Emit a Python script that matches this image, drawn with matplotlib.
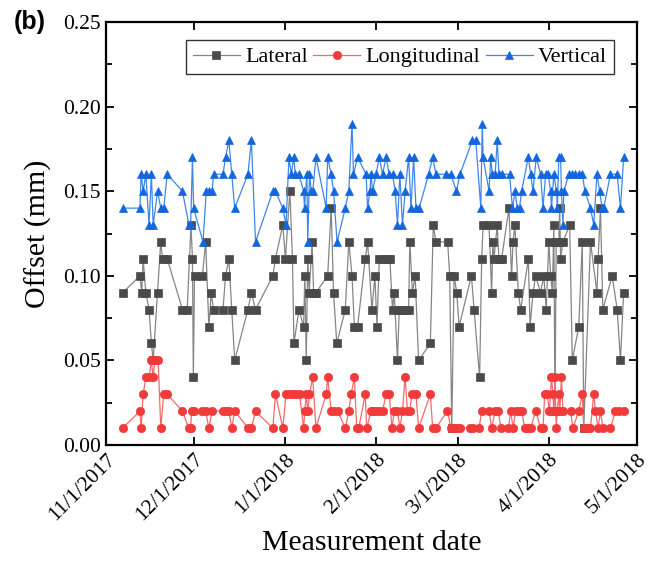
import numpy as np
import matplotlib
matplotlib.use("Agg")
import matplotlib.pyplot as plt
import matplotlib.dates as mdates
from matplotlib.ticker import MultipleLocator, FuncFormatter

# ---------------- data (days after 2017-11-01, offset in mm) ----------------
start_date = "2017-11-01"

lat_day = [5.7, 11.6, 12.2, 12.7, 13.6, 14.7, 15.5, 16.1, 17.6, 18.7,
           19.3, 20.9, 26.1, 27.7, 29.0, 29.5, 29.8, 30.2, 32.9, 34.0,
           35.1, 35.9, 36.7, 39.9, 40.8, 41.9, 42.9, 43.9, 48.4, 49.6,
           51.0, 56.9, 57.8, 60.3, 61.2, 62.7, 63.6, 64.1, 65.8, 67.4,
           67.8, 68.3, 68.8, 69.3, 70.3, 70.8, 71.6, 75.6, 76.8, 77.6,
           78.7, 81.6, 82.8, 83.9, 84.7, 85.8, 88.4, 89.2, 90.7, 91.7,
           92.4, 93.2, 94.3, 96.0, 96.8, 97.7, 98.3, 99.4, 100.0, 101.1,
           102.3, 103.2, 103.6, 104.5, 105.4, 106.6, 110.6, 111.6, 112.5, 116.5,
           117.2, 117.9, 118.7, 119.6, 120.4, 124.6, 125.5, 127.4, 128.1, 128.6,
           130.6, 131.5, 131.9, 132.3, 133.4, 134.0, 134.9, 137.4, 138.3, 138.8,
           139.4, 140.6, 141.4, 144.0, 144.6, 145.6, 146.5, 148.2, 149.3, 150.1,
           151.0, 151.6, 152.2, 152.7, 153.1, 153.5, 153.9, 154.4, 154.7, 155.0,
           155.8, 158.1, 159.0, 161.2, 162.4, 162.9, 165.2, 167.4, 167.8, 168.6,
           169.4, 172.6, 174.3, 175.4, 176.5]
lat_val = [0.09, 0.10, 0.09, 0.11, 0.09, 0.08, 0.06, 0.05, 0.09, 0.12,
           0.11, 0.11, 0.08, 0.08, 0.13, 0.11, 0.04, 0.10, 0.10, 0.12,
           0.07, 0.09, 0.08, 0.08, 0.10, 0.11, 0.08, 0.05, 0.08, 0.09,
           0.08, 0.10, 0.11, 0.13, 0.11, 0.15, 0.11, 0.06, 0.08, 0.07,
           0.10, 0.05, 0.11, 0.09, 0.12, 0.09, 0.09, 0.10, 0.14, 0.09,
           0.06, 0.08, 0.12, 0.10, 0.07, 0.07, 0.11, 0.12, 0.08, 0.10,
           0.07, 0.11, 0.11, 0.11, 0.11, 0.08, 0.09, 0.05, 0.08, 0.08,
           0.08, 0.08, 0.12, 0.09, 0.10, 0.05, 0.06, 0.13, 0.12, 0.12,
           0.10, 0.01, 0.10, 0.09, 0.07, 0.10, 0.08, 0.04, 0.11, 0.13,
           0.13, 0.09, 0.12, 0.11, 0.13, 0.11, 0.11, 0.14, 0.10, 0.12,
           0.13, 0.09, 0.08, 0.11, 0.07, 0.09, 0.10, 0.09, 0.10, 0.08,
           0.12, 0.10, 0.09, 0.13, 0.02, 0.12, 0.12, 0.12, 0.14, 0.11,
           0.12, 0.13, 0.05, 0.07, 0.12, 0.01, 0.12, 0.09, 0.11, 0.14,
           0.08, 0.10, 0.08, 0.05, 0.09]

lon_day = [5.7, 11.6, 12.0, 12.7, 13.6, 14.7, 15.5, 16.1, 16.7, 17.8,
           18.7, 19.7, 20.9, 26.1, 28.2, 28.9, 29.2, 29.9, 32.9, 34.0,
           35.1, 36.2, 39.9, 40.8, 41.9, 42.9, 43.9, 48.4, 49.6, 51.0,
           56.9, 57.8, 60.3, 61.4, 62.6, 63.7, 64.9, 66.0, 67.4, 67.8,
           68.3, 68.8, 69.4, 70.5, 71.6, 75.1, 75.6, 76.8, 77.9, 79.0,
           81.6, 82.8, 83.6, 84.7, 85.5, 86.2, 88.4, 88.9, 90.4, 91.2,
           92.1, 93.2, 94.3, 95.5, 96.6, 97.5, 98.3, 99.4, 100.2, 101.1,
           102.0, 102.8, 103.6, 104.3, 105.7, 106.6, 110.6, 111.4, 112.5, 116.4,
           117.6, 118.7, 119.8, 120.6, 124.2, 125.2, 127.2, 128.1, 130.6, 131.5,
           132.7, 133.8, 134.6, 137.2, 138.0, 138.8, 139.7, 140.8, 141.7, 142.8,
           144.0, 144.8, 146.5, 148.2, 149.0, 149.6, 150.4, 151.2, 151.9, 152.4,
           152.7, 153.1, 153.5, 153.9, 154.4, 154.7, 155.3, 155.8, 158.4, 159.2,
           161.2, 162.4, 162.9, 164.4, 165.2, 166.3, 166.9, 167.8, 168.6, 169.4,
           172.0, 173.7, 174.8, 176.5]
lon_val = [0.01, 0.02, 0.01, 0.03, 0.04, 0.04, 0.05, 0.04, 0.05, 0.05,
           0.01, 0.03, 0.03, 0.02, 0.01, 0.01, 0.02, 0.02, 0.02, 0.02,
           0.01, 0.02, 0.02, 0.02, 0.02, 0.01, 0.02, 0.01, 0.01, 0.02,
           0.01, 0.03, 0.01, 0.03, 0.03, 0.03, 0.03, 0.03, 0.01, 0.02,
           0.03, 0.02, 0.03, 0.04, 0.01, 0.03, 0.04, 0.02, 0.02, 0.02,
           0.01, 0.02, 0.03, 0.04, 0.01, 0.01, 0.03, 0.01, 0.02, 0.02,
           0.02, 0.02, 0.02, 0.03, 0.03, 0.01, 0.02, 0.02, 0.01, 0.02,
           0.04, 0.02, 0.02, 0.03, 0.03, 0.01, 0.03, 0.01, 0.01, 0.02,
           0.01, 0.01, 0.01, 0.01, 0.01, 0.01, 0.01, 0.02, 0.02, 0.01,
           0.02, 0.02, 0.01, 0.01, 0.02, 0.01, 0.02, 0.02, 0.02, 0.01,
           0.01, 0.01, 0.02, 0.01, 0.01, 0.03, 0.03, 0.02, 0.04, 0.03,
           0.02, 0.04, 0.01, 0.02, 0.03, 0.02, 0.04, 0.02, 0.02, 0.01,
           0.02, 0.03, 0.01, 0.01, 0.01, 0.03, 0.02, 0.01, 0.02, 0.01,
           0.01, 0.02, 0.02, 0.02]

ver_day = [5.7, 11.6, 12.0, 12.7, 13.6, 14.7, 15.5, 16.1, 17.6, 18.7,
           19.7, 20.9, 26.1, 28.3, 28.9, 29.5, 29.9, 33.1, 34.2, 35.3,
           36.2, 36.7, 39.9, 40.8, 41.9, 42.9, 43.9, 48.4, 49.6, 51.0,
           56.9, 57.8, 60.3, 61.4, 62.4, 63.2, 64.0, 64.6, 65.8, 67.4,
           67.7, 68.5, 68.8, 69.4, 70.0, 70.5, 71.6, 75.1, 75.6, 76.8,
           77.6, 78.8, 81.6, 82.8, 83.9, 84.4, 85.8, 88.7, 89.2, 90.0,
           90.4, 90.9, 92.1, 93.2, 94.3, 95.5, 96.6, 97.7, 98.6, 99.4,
           100.2, 101.1, 102.0, 103.2, 104.0, 104.9, 105.7, 106.8, 110.0, 111.4,
           112.5, 116.1, 117.6, 119.5, 120.7, 124.9, 126.1, 127.8, 128.3, 128.6,
           130.6, 131.2, 131.7, 132.7, 133.4, 134.0, 134.9, 137.6, 138.6, 139.5,
           140.2, 141.0, 141.7, 144.0, 144.8, 145.6, 146.7, 148.2, 149.0, 149.9,
           150.8, 151.6, 151.9, 152.7, 153.6, 153.9, 154.4, 155.0, 155.3, 155.8,
           156.1, 157.8, 159.0, 159.9, 161.2, 162.4, 163.3, 165.2, 166.3, 167.4,
           168.3, 169.2, 169.7, 172.0, 174.3, 175.4, 176.5]
ver_val = [0.14, 0.14, 0.16, 0.15, 0.16, 0.13, 0.16, 0.13, 0.15, 0.14,
           0.14, 0.16, 0.15, 0.13, 0.13, 0.17, 0.14, 0.12, 0.15, 0.15,
           0.15, 0.16, 0.16, 0.17, 0.18, 0.16, 0.14, 0.16, 0.18, 0.12,
           0.15, 0.15, 0.14, 0.13, 0.17, 0.16, 0.17, 0.16, 0.16, 0.15,
           0.14, 0.16, 0.12, 0.16, 0.15, 0.15, 0.17, 0.14, 0.17, 0.16,
           0.15, 0.12, 0.14, 0.15, 0.19, 0.16, 0.17, 0.16, 0.14, 0.15,
           0.16, 0.15, 0.16, 0.17, 0.16, 0.17, 0.16, 0.16, 0.15, 0.13,
           0.16, 0.13, 0.15, 0.17, 0.14, 0.17, 0.14, 0.14, 0.16, 0.17,
           0.16, 0.16, 0.16, 0.15, 0.16, 0.18, 0.18, 0.14, 0.19, 0.17,
           0.15, 0.17, 0.16, 0.16, 0.18, 0.16, 0.16, 0.16, 0.14, 0.15,
           0.14, 0.14, 0.15, 0.17, 0.16, 0.15, 0.17, 0.16, 0.14, 0.16,
           0.16, 0.15, 0.14, 0.16, 0.15, 0.14, 0.17, 0.17, 0.15, 0.13,
           0.15, 0.16, 0.16, 0.16, 0.16, 0.16, 0.15, 0.14, 0.13, 0.16,
           0.15, 0.14, 0.14, 0.16, 0.16, 0.14, 0.17]

series_names = ["Lateral", "Longitudinal", "Vertical"]
x_range = ["2017-11-01", "2018-05-01"]
y_range = [0.0, 0.25]

# ---------------- figure ----------------
plt.rcParams["font.family"] = ["Liberation Serif", "DejaVu Serif"]

fig = plt.figure(figsize=(6.62, 5.63), dpi=100)
ax = fig.add_axes([0.160, 0.2096, 0.802, 0.7513])

base = mdates.datestr2num(start_date)

styles = [
    dict(marker="s", color="#858585", mfc="#4a4a4a", mec="#4a4a4a", ms=5.8),
    dict(marker="o", color="#f36a6a", mfc="#f23a3a", mec="#f23a3a", ms=6.0),
    dict(marker="^", color="#3f86ea", mfc="#1466de", mec="#1466de", ms=6.3),
]
for name, days, vals, st in zip(series_names,
                                [lat_day, lon_day, ver_day],
                                [lat_val, lon_val, ver_val], styles):
    ax.plot(base + np.asarray(days), vals, label=name, lw=0.9,
            color=st["color"], marker=st["marker"], ms=st["ms"],
            mfc=st["mfc"], mec=st["mec"], mew=0.5)

ax.set_xlim(mdates.datestr2num(x_range[0]), mdates.datestr2num(x_range[1]))
ax.set_ylim(*y_range)

ax.xaxis.set_major_locator(mdates.MonthLocator())
ax.xaxis.set_major_formatter(FuncFormatter(
    lambda v, p: "{d.month}/{d.day}/{d.year}".format(d=mdates.num2date(v))))
ax.yaxis.set_major_locator(MultipleLocator(0.05))
ax.yaxis.set_minor_locator(MultipleLocator(0.025))
ax.yaxis.set_major_formatter(FuncFormatter(lambda v, p: f"{v:.2f}"))

ax.tick_params(which="both", direction="in", top=True, right=True,
               width=1.3)
ax.tick_params(axis="y", labelsize=15.5)
ax.tick_params(axis="x", labelsize=15.5)
ax.tick_params(which="major", length=6)
ax.tick_params(which="minor", length=4)
for lab in ax.get_xticklabels():
    lab.set_rotation(45)
    lab.set_ha("right")
    lab.set_va("top")
    lab.set_rotation_mode("anchor")
for s in ax.spines.values():
    s.set_linewidth(1.6)

ax.set_ylabel("Offset (mm)", fontsize=21.5, labelpad=8)
ax.set_xlabel("Measurement date", fontsize=21.5, labelpad=4)

leg = ax.legend(loc="upper right", bbox_to_anchor=(0.957, 0.957),
                ncol=3, fontsize=16, frameon=True, fancybox=False,
                edgecolor="#333333", framealpha=1, borderaxespad=0,
                handlelength=2.1, handletextpad=0.25, columnspacing=0.25,
                borderpad=0.3, numpoints=1)
leg.get_frame().set_linewidth(1.0)

fig.text(14 / 662, 1 - 22 / 563, "(b)", fontsize=18, fontweight="bold",
         family=["Liberation Sans", "DejaVu Sans"], va="center", ha="left")

fig.savefig("out.png", dpi=100)
